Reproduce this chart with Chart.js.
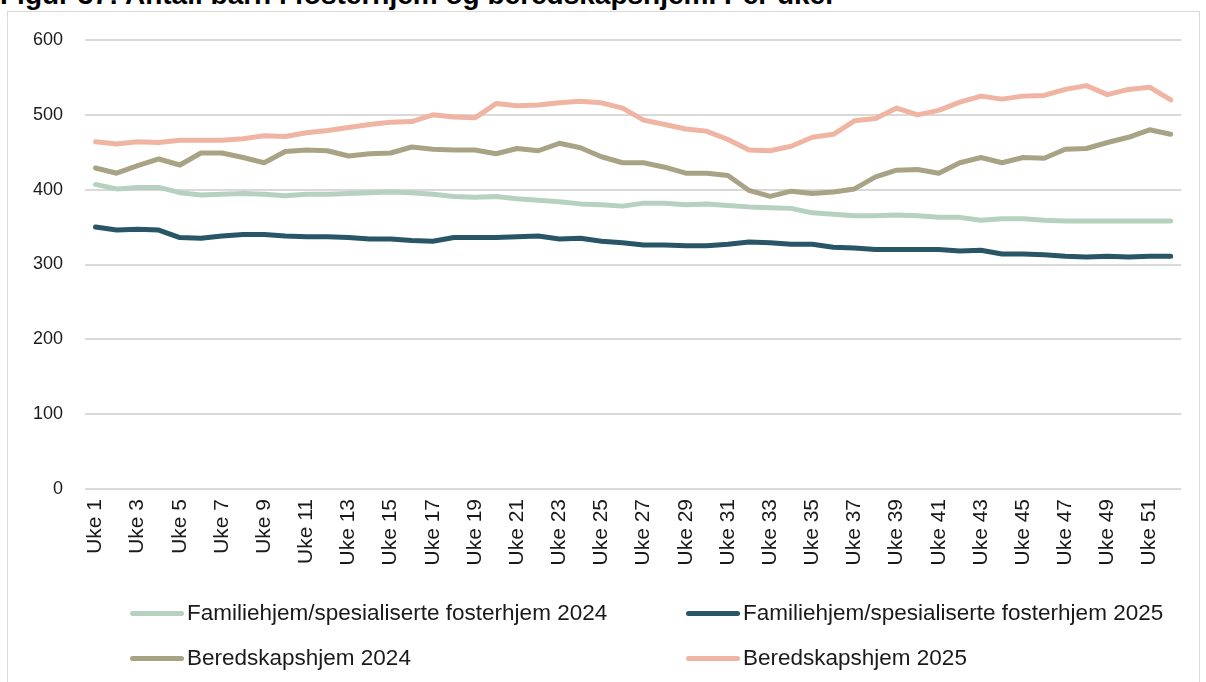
<!DOCTYPE html>
<html>
<head>
<meta charset="utf-8">
<script src="https://cdn.jsdelivr.net/npm/chart.js@4.4.1/dist/chart.umd.min.js"></script>
<style>
  html, body { margin: 0; padding: 0; background: #fff; width: 1206px; height: 682px; overflow: hidden; }
  body { position: relative; font-family: "Liberation Sans", Arial, sans-serif; }
  #title { position: absolute; left: 0; top: -19px; font-weight: bold; font-size: 28px; line-height: 28px; color: #000; white-space: nowrap; }
  #frame { position: absolute; left: 7px; top: 11px; width: 1193px; height: 720px; border: 1px solid #d9d9d9; box-sizing: border-box; }
  #wrap { position: absolute; left: 0; top: 0; width: 1206px; height: 682px; }
  #legend { position: absolute; left: 0; top: 0; width: 1206px; height: 682px; pointer-events: none; }
  .item { position: absolute; display: flex; align-items: center; font-size: 22.5px; color: #1a1a1a; white-space: nowrap; transform: translateY(-50%); }
  .swatch { width: 54px; height: 5px; border-radius: 3px; margin-right: 3px; }
</style>
</head>
<body>
<div id="title">Figur 37: Antall barn i fosterhjem og beredskapshjem. Per uke.</div>
<div id="frame"></div>
<div id="wrap"><canvas id="c" width="1206" height="682"></canvas></div>
<div id="legend"></div>
<script>
// Weeks 1-52
const weeks = Array.from({ length: 52 }, (_, i) => 'Uke ' + (i + 1));

// Children per week
const familie2024 = [407,401,403,403,396,393,394,395,394,392,394,394,395,396,397,396,394,391,390,391,388,386,384,381,380,378,
                     382,382,380,381,379,377,376,375,369,367,365,365,366,365,363,363,359,361,361,359,358,358,358,358,358,358];
const familie2025 = [350,346,347,346,336,335,338,340,340,338,337,337,336,334,334,332,331,336,336,336,337,338,334,335,331,329,
                     326,326,325,325,327,330,329,327,327,323,322,320,320,320,320,318,319,314,314,313,311,310,311,310,311,311];
const beredskap2024 = [429,422,432,441,433,449,449,443,436,451,453,452,445,448,449,457,454,453,453,448,455,452,462,456,444,436,
                       436,430,422,422,419,399,391,398,395,397,401,417,426,427,422,436,443,436,443,442,454,455,463,470,480,474];
const beredskap2025 = [464,461,464,463,466,466,466,468,472,471,476,479,483,487,490,491,500,497,496,515,512,513,516,518,516,509,
                       493,487,481,478,467,453,452,458,470,474,492,495,509,500,506,517,525,521,525,526,534,539,527,534,537,520];

const yTicks = [0, 100, 200, 300, 400, 500, 600];

const seriesNames = [
  'Familiehjem/spesialiserte fosterhjem 2024',
  'Familiehjem/spesialiserte fosterhjem 2025',
  'Beredskapshjem 2024',
  'Beredskapshjem 2025'
];
const seriesColors = ['#b6d1c0', '#285666', '#a9a386', '#f0b4a2'];
const seriesData = [familie2024, familie2025, beredskap2024, beredskap2025];

const datasets = seriesData.map((d, i) => ({
  label: seriesNames[i],
  data: d,
  borderColor: seriesColors[i],
  backgroundColor: seriesColors[i],
  borderWidth: 5,
  pointRadius: 0,
  tension: 0,
  borderCapStyle: 'round',
  borderJoinStyle: 'round',
  fill: false
}));

const fontFamily = '"Liberation Sans", Arial, sans-serif';

new Chart(document.getElementById('c'), {
  type: 'line',
  data: { labels: weeks, datasets },
  options: {
    responsive: false,
    animation: false,
    layout: { padding: { left: 0, right: 14, top: 40, bottom: 0 } },
    plugins: { legend: { display: false }, tooltip: { enabled: false } },
    scales: {
      x: {
        offset: true,
        grid: { display: false, drawTicks: false },
        border: { display: false },
        ticks: {
          autoSkip: false,
          maxRotation: 90,
          minRotation: 90,
          padding: 10,
          color: '#1a1a1a',
          font: { family: fontFamily, size: 21 },
          callback: (v, i) => (i % 2 === 0 ? weeks[i] : '')
        },
        afterFit: s => { s.height = 682 - 489; }
      },
      y: {
        min: yTicks[0],
        max: yTicks[yTicks.length - 1],
        afterBuildTicks: s => { s.ticks = yTicks.map(v => ({ value: v })); },
        grid: { color: '#d9d9d9', lineWidth: 2, drawTicks: false },
        border: { display: false },
        ticks: { padding: 22, color: '#1a1a1a', font: { family: fontFamily, size: 18 } },
        afterFit: s => { s.width = 85; }
      }
    }
  }
});

// Legend in two columns below the plot
const legendPos = [[130, 613], [686, 613], [130, 658], [686, 658]];
const legendEl = document.getElementById('legend');
seriesNames.forEach((name, i) => {
  const item = document.createElement('div');
  item.className = 'item';
  item.style.left = legendPos[i][0] + 'px';
  item.style.top = legendPos[i][1] + 'px';
  const sw = document.createElement('span');
  sw.className = 'swatch';
  sw.style.background = seriesColors[i];
  const tx = document.createElement('span');
  tx.textContent = name;
  item.appendChild(sw);
  item.appendChild(tx);
  legendEl.appendChild(item);
});
</script>
</body>
</html>
